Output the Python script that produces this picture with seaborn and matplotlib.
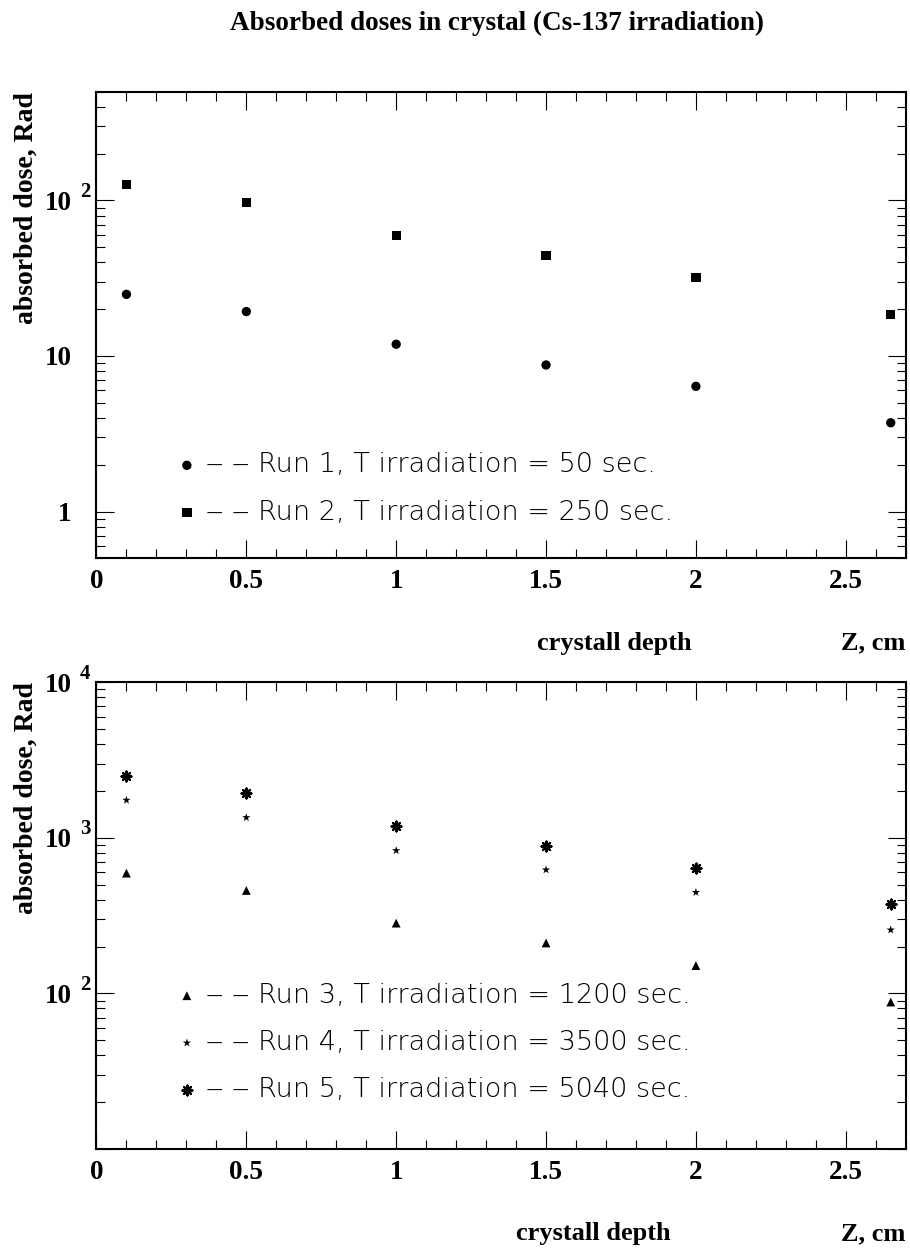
import numpy as np
import pandas as pd
import matplotlib
matplotlib.use("Agg")
import matplotlib.pyplot as plt
import matplotlib.transforms as mtransforms
import seaborn as sns
from matplotlib.ticker import MultipleLocator, LogLocator, FuncFormatter, NullFormatter

# ---------------- data ----------------
depth = [0.1, 0.5, 1.0, 1.5, 2.0, 2.65]
run1 = [24.9, 19.3, 11.9, 8.75, 6.38, 3.72]
run2 = [126, 96.7, 59.6, 44.3, 31.9, 18.5]
run3 = [593, 459, 283, 211, 151, 88]
run4 = [1746, 1350, 829, 623, 446, 256]
run5 = [2512, 1945, 1189, 889, 638, 373]

labels_top = ["Run 1, T irradiation = 50 sec.", "Run 2, T irradiation = 250 sec."]
labels_bot = ["Run 3, T irradiation = 1200 sec.",
              "Run 4, T irradiation = 3500 sec.",
              "Run 5, T irradiation = 5040 sec."]
title = "Absorbed doses in crystal (Cs-137 irradiation)"
ylabel = "absorbed dose, Rad"
xlabel_left = "crystall depth"
xlabel_right = "Z, cm"
top_decades = [0, 1, 2]      # labelled decades, upper panel
bot_decades = [2, 3, 4]      # labelled decades, lower panel

# ---------------- style ----------------
sns.set_style("ticks")
plt.rcParams["font.family"] = ["Liberation Serif", "DejaVu Serif"]
for k in ("text.color", "axes.labelcolor", "xtick.color", "ytick.color",
          "axes.edgecolor"):
    plt.rcParams[k] = "black"
plt.rcParams["axes.linewidth"] = 1.5

BOLD = dict(family="Liberation Serif", weight="bold")
LEG_FONT = dict(family="DejaVu Sans", weight="light", size=19.5)

fig = plt.figure(figsize=(9.1, 12.53), dpi=100)
ax1 = fig.add_axes([0.106, 0.5544, 0.8893, 0.3724])
ax2 = fig.add_axes([0.106, 0.0830, 0.8893, 0.3725])


def style_axis(ax, ylim, decades):
    ax.set_xlim(0, 2.7)
    ax.set_yscale("log")
    ax.set_ylim(*ylim)
    ax.xaxis.set_major_locator(MultipleLocator(0.5))
    ax.xaxis.set_minor_locator(MultipleLocator(0.1))
    ax.xaxis.set_major_formatter(FuncFormatter(lambda v, p: "%g" % v))
    ax.yaxis.set_major_locator(LogLocator(base=10))
    ax.yaxis.set_minor_locator(LogLocator(base=10, subs=np.arange(2, 10)))
    ax.yaxis.set_minor_formatter(NullFormatter())

    def ylab(v, pos):
        e = int(round(np.log10(v)))
        if e not in decades:
            return ""
        return "1" if e == 0 else "10"

    ax.yaxis.set_major_formatter(FuncFormatter(ylab))
    ax.tick_params(which="both", direction="in", top=True, right=True,
                   width=0.8, color="black")
    ax.tick_params(which="major", length=13)
    ax.tick_params(which="minor", length=6.5)
    ax.tick_params(axis="x", which="major", pad=8)
    ax.tick_params(axis="y", which="major", pad=18)
    for lab in ax.get_xticklabels() + ax.get_yticklabels():
        lab.set_fontfamily("Liberation Serif")
        lab.set_fontweight("bold")
        lab.set_fontsize(19.5)
    for s in ax.spines.values():
        s.set_visible(True)
        s.set_linewidth(1.5)
        s.set_color("black")
    # exponents of the decade labels (10^e)
    trans = mtransforms.blended_transform_factory(ax.transAxes, ax.transData)
    trans = mtransforms.offset_copy(trans, fig=fig, x=0, y=2.5, units="points")
    for e in decades:
        if e >= 2:
            ax.text(-0.0075, 10.0 ** e, str(e), transform=trans, ha="right",
                    va="baseline", fontsize=15, **BOLD)
    ax.set_ylabel(ylabel, loc="top", fontsize=20, **BOLD)
    ax.yaxis.set_label_coords(-0.071, 1.0)


# ---------------- top panel ----------------
sns.scatterplot(x=depth, y=run1, marker="o", s=45, color="black",
                edgecolor="none", ax=ax1, label=labels_top[0])
sns.scatterplot(x=depth, y=run2, marker="s", s=45, color="black",
                edgecolor="none", ax=ax1, label=labels_top[1])
style_axis(ax1, (0.5, 500), top_decades)

# ---------------- bottom panel ----------------
sns.scatterplot(x=depth, y=run3, marker="^", s=40, color="black",
                edgecolor="none", ax=ax2, label=labels_bot[0])
sns.scatterplot(x=depth, y=run4, marker="*", s=40, color="black",
                edgecolor="none", ax=ax2, label=labels_bot[1])
sns.scatterplot(x=depth, y=run5, marker=(8, 2, 0), s=50, color="black",
                linewidth=1.6, ax=ax2, label=labels_bot[2])
style_axis(ax2, (10, 1e4), bot_decades)


def make_legend(ax, anchor_y):
    h, l = ax.get_legend_handles_labels()
    l = ["\u2012 \u2012 " + t for t in l]
    ax.legend(h, l, loc="upper left", bbox_to_anchor=(0.1017, anchor_y),
              frameon=False, borderpad=0, borderaxespad=0,
              handlelength=0.6, handletextpad=0.4, labelspacing=0.82,
              prop=LEG_FONT, labelcolor="black")


make_legend(ax1, 0.227)
make_legend(ax2, 0.356)

# x labels
for ax, cx in ((ax1, 0.640), (ax2, 0.614)):
    ax.text(cx, -0.182, xlabel_left, transform=ax.transAxes, ha="center",
            va="center", fontsize=19, **BOLD)
    ax.text(1.0, -0.182, xlabel_right, transform=ax.transAxes, ha="right",
            va="center", fontsize=19, **BOLD)

fig.suptitle(title, x=0.546, y=0.981, va="center", fontsize=19.5, **BOLD)

fig.savefig("out.png", dpi=100)
